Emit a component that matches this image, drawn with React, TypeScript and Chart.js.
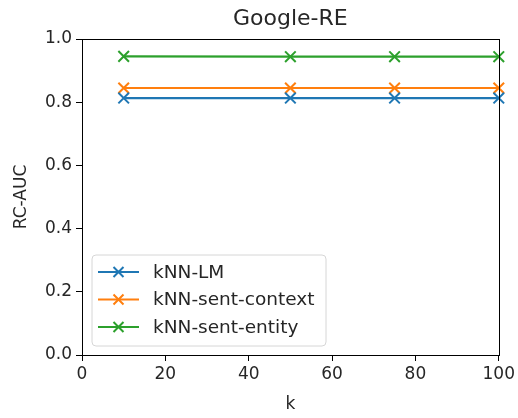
import React, { useEffect, useRef } from "react";
import { Chart, registerables } from "chart.js";

Chart.register(...registerables);

const kValues = [10, 50, 75, 100];
const seriesNames = ["kNN-LM", "kNN-sent-context", "kNN-sent-entity"];
const knnLM = [0.813, 0.813, 0.813, 0.813];
const knnSentContext = [0.845, 0.845, 0.845, 0.845];
const knnSentEntity = [0.945, 0.944, 0.944, 0.944];
const seriesColors = ["#1f77b4", "#ff7f0e", "#2ca02c"];
const xTicks = [0, 20, 40, 60, 80, 100];
const yTicks = [0, 0.2, 0.4, 0.6, 0.8, 1.0];
const chartTitle = "Google-RE";

const FONT = "'DejaVu Sans', sans-serif";

const frameAndLegend = {
  id: "frameAndLegend",
  afterDatasetsDraw(chart: any) {
    const { ctx, chartArea } = chart;
    ctx.save();
    // frame
    ctx.strokeStyle = "#000";
    ctx.lineWidth = 1;
    ctx.strokeRect(
      Math.round(chartArea.left) + 0.5,
      Math.round(chartArea.top) + 0.5,
      Math.round(chartArea.right - chartArea.left),
      Math.round(chartArea.bottom - chartArea.top)
    );
    // title centred over plot area
    ctx.fillStyle = "#262626";
    ctx.font = `22px ${FONT}`;
    ctx.textAlign = "center";
    ctx.textBaseline = "middle";
    ctx.fillText(chartTitle, (chartArea.left + chartArea.right) / 2, 19);
    // legend
    const bx = chartArea.left + 10;
    const by = chartArea.bottom - 100;
    const bw = 234;
    const bh = 91;
    const r = 4;
    ctx.beginPath();
    ctx.moveTo(bx + r, by);
    ctx.lineTo(bx + bw - r, by);
    ctx.quadraticCurveTo(bx + bw, by, bx + bw, by + r);
    ctx.lineTo(bx + bw, by + bh - r);
    ctx.quadraticCurveTo(bx + bw, by + bh, bx + bw - r, by + bh);
    ctx.lineTo(bx + r, by + bh);
    ctx.quadraticCurveTo(bx, by + bh, bx, by + bh - r);
    ctx.lineTo(bx, by + r);
    ctx.quadraticCurveTo(bx, by, bx + r, by);
    ctx.closePath();
    ctx.fillStyle = "rgba(255,255,255,0.8)";
    ctx.fill();
    ctx.strokeStyle = "#d6d6d6";
    ctx.lineWidth = 1;
    ctx.stroke();
    chart.data.datasets.forEach((ds: any, i: number) => {
      const cy = by + 17 + i * 27.5;
      const x0 = bx + 6;
      const x1 = bx + 47;
      ctx.strokeStyle = ds.borderColor;
      ctx.lineWidth = 2.2;
      ctx.beginPath();
      ctx.moveTo(x0, cy);
      ctx.lineTo(x1, cy);
      ctx.stroke();
      const mx = (x0 + x1) / 2;
      const d = 5;
      ctx.lineWidth = 2;
      ctx.beginPath();
      ctx.moveTo(mx - d, cy - d);
      ctx.lineTo(mx + d, cy + d);
      ctx.moveTo(mx - d, cy + d);
      ctx.lineTo(mx + d, cy - d);
      ctx.stroke();
      ctx.fillStyle = "#262626";
      ctx.font = `18.5px ${FONT}`;
      ctx.textAlign = "left";
      ctx.textBaseline = "middle";
      ctx.fillText(ds.label, bx + 61, cy + 1);
    });
    ctx.restore();
  },
};

export default function App() {
  const ref = useRef<HTMLCanvasElement | null>(null);
  useEffect(() => {
    document.body.style.margin = "0";
    const series = [knnLM, knnSentContext, knnSentEntity];
    const chart = new Chart(ref.current as HTMLCanvasElement, {
      type: "line",
      data: {
        datasets: series.map((vals, i) => ({
          label: seriesNames[i],
          data: kValues.map((k, j) => ({ x: k, y: vals[j] })),
          borderColor: seriesColors[i],
          backgroundColor: seriesColors[i],
          borderWidth: 2.2,
          pointStyle: "crossRot",
          pointRadius: 7.5,
          pointBorderWidth: 2,
          pointHoverRadius: 7.5,
          fill: false,
          tension: 0,
          clip: false as any,
        })),
      },
      options: {
        animation: false,
        responsive: false,
        maintainAspectRatio: false,
        layout: { padding: { left: 0, right: 19, top: 39, bottom: 0 } },
        plugins: {
          legend: { display: false },
          tooltip: { enabled: false },
          title: { display: false },
        },
        scales: {
          x: {
            type: "linear",
            min: 0,
            max: 100,
            afterBuildTicks: (scale: any) => {
              scale.ticks = xTicks.map((v) => ({ value: v }));
            },
            afterFit: (scale: any) => {
              scale.height = 63;
            },
            ticks: {
              color: "#262626",
              font: { family: FONT, size: 17 },
              padding: 3,
              maxRotation: 0,
              callback: (v: any) => String(v),
            },
            grid: {
              display: true,
              drawOnChartArea: false,
              drawTicks: true,
              tickLength: 6,
              color: "#000",
            },
            border: { display: true, color: "#000" },
            title: {
              display: true,
              text: "k",
              color: "#262626",
              font: { family: FONT, size: 17 },
              padding: { top: 0, bottom: 3 },
            },
          },
          y: {
            type: "linear",
            min: 0,
            max: 1,
            afterBuildTicks: (scale: any) => {
              scale.ticks = yTicks.map((v) => ({ value: v }));
            },
            afterFit: (scale: any) => {
              scale.width = 82;
            },
            ticks: {
              color: "#262626",
              font: { family: FONT, size: 17 },
              padding: 4,
              callback: (v: any) => Number(v).toFixed(1),
            },
            grid: {
              display: true,
              drawOnChartArea: false,
              drawTicks: true,
              tickLength: 6,
              color: "#000",
            },
            border: { display: true, color: "#000" },
            title: {
              display: true,
              text: "RC-AUC",
              color: "#262626",
              font: { family: FONT, size: 17 },
              padding: { top: 11, bottom: 0 },
            },
          },
        },
      },
      plugins: [frameAndLegend],
    });
    return () => chart.destroy();
  }, []);
  return (
    <div style={{ width: 518, height: 418 }}>
      <canvas ref={ref} width={518} height={418} style={{ display: "block" }} />
    </div>
  );
}
